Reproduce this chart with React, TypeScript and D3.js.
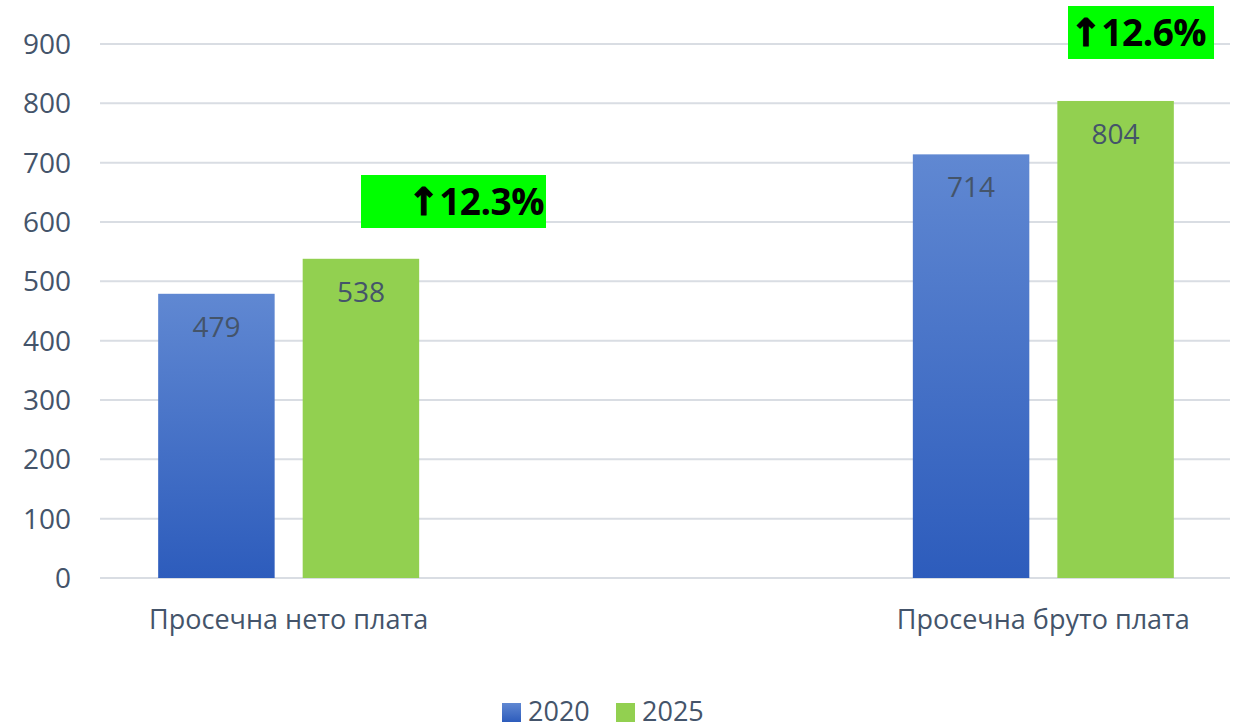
import React from "react";
import * as d3 from "d3";

const categories = ["Просечна нето плата", "Просечна бруто плата"];
const seriesNames = ["2020", "2025"];
const values2020 = [479, 714];
const values2025 = [538, 804];
const changeLabels = ["12.3%", "12.6%"];
const yTicks = [0, 100, 200, 300, 400, 500, 600, 700, 800, 900];

const W = 1233;
const H = 728;
const TEXT = "#44546a";
const FONT = "'Open Sans', 'Noto Sans', sans-serif";

export default function App() {
  const plotLeft = 100;
  const plotRight = 1232;
  const y = d3.scaleLinear().domain([0, 900]).range([578, 44]);
  const x0 = d3.scalePoint<string>().domain(categories).range([plotLeft, plotRight]).padding(0.25);
  const x1 = d3.scaleBand<string>().domain(seriesNames).range([-130.5, 130.5]).paddingInner(0.194);
  const colors: Record<string, string> = { "2020": "url(#blueGrad)", "2025": "#92d050" };
  const series: Record<string, number[]> = { "2020": values2020, "2025": values2025 };

  const badges = [
    { box: [361, 175, 185, 53], anchor: "end", tx: 544 },
    { box: [1068, 6, 146, 53], anchor: "start", tx: 1070 },
  ];

  return (
    <svg width={W} height={H} style={{ position: "absolute", left: 0, top: 0, display: "block" }} fontFamily={FONT}>
      <defs>
        <linearGradient id="blueGrad" x1="0" y1="0" x2="0" y2="1">
          <stop offset="0%" stopColor="#6088d2" />
          <stop offset="100%" stopColor="#2d5cbc" />
        </linearGradient>
        <linearGradient id="blueLeg" x1="0" y1="0" x2="0" y2="1">
          <stop offset="0%" stopColor="#6088d2" />
          <stop offset="100%" stopColor="#2d5cbc" />
        </linearGradient>
      </defs>
      <rect x={0} y={0} width={W} height={H} fill="#ffffff" />
      {yTicks.map((t) => (
        <g key={t}>
          <line x1={plotLeft} x2={1230} y1={y(t)} y2={y(t)} stroke="#d9dde3" strokeWidth={2} />
          <text x={71} y={y(t)} dy="0.36em" textAnchor="end" fontSize={28} fill={TEXT}>
            {t}
          </text>
        </g>
      ))}
      {categories.map((c, i) => (
        <g key={c} transform={`translate(${x0(c)},0)`}>
          {seriesNames.map((s) => {
            const v = series[s][i];
            const bx = x1(s)!;
            const bw = x1.bandwidth();
            return (
              <g key={s}>
                <rect x={bx} y={y(v)} width={bw} height={y(0) - y(v)} fill={colors[s]} />
                <text x={bx + bw / 2} y={y(v) + 43} textAnchor="middle" fontSize={28} fill={TEXT}>
                  {v}
                </text>
              </g>
            );
          })}
          <text x={0} y={629} textAnchor="middle" fontSize={27} fill={TEXT}>
            {c}
          </text>
        </g>
      ))}
      {badges.map((b, i) => (
        <g key={i}>
          <rect x={b.box[0]} y={b.box[1]} width={b.box[2]} height={b.box[3]} fill="#00ff00" />
          <text
            x={b.tx}
            y={b.box[1] + b.box[3] / 2}
            dy="0.36em"
            textAnchor={b.anchor as any}
            fontSize={37}
            fontWeight="bold"
            fill="#000000"
            letterSpacing={-0.5}
          >
            <tspan fontFamily="'DejaVu Sans', sans-serif" fontWeight="bold" fontSize={38} stroke="#000" strokeWidth={1.2}>↑</tspan>
            {changeLabels[i]}
          </text>
        </g>
      ))}
      <g>
        <rect x={502} y={703} width={19} height={19} fill="url(#blueLeg)" />
        <text x={528} y={721} fontSize={27} fill={TEXT}>
          {seriesNames[0]}
        </text>
        <rect x={616} y={703} width={19} height={19} fill="#92d050" />
        <text x={642} y={721} fontSize={27} fill={TEXT}>
          {seriesNames[1]}
        </text>
      </g>
    </svg>
  );
}
